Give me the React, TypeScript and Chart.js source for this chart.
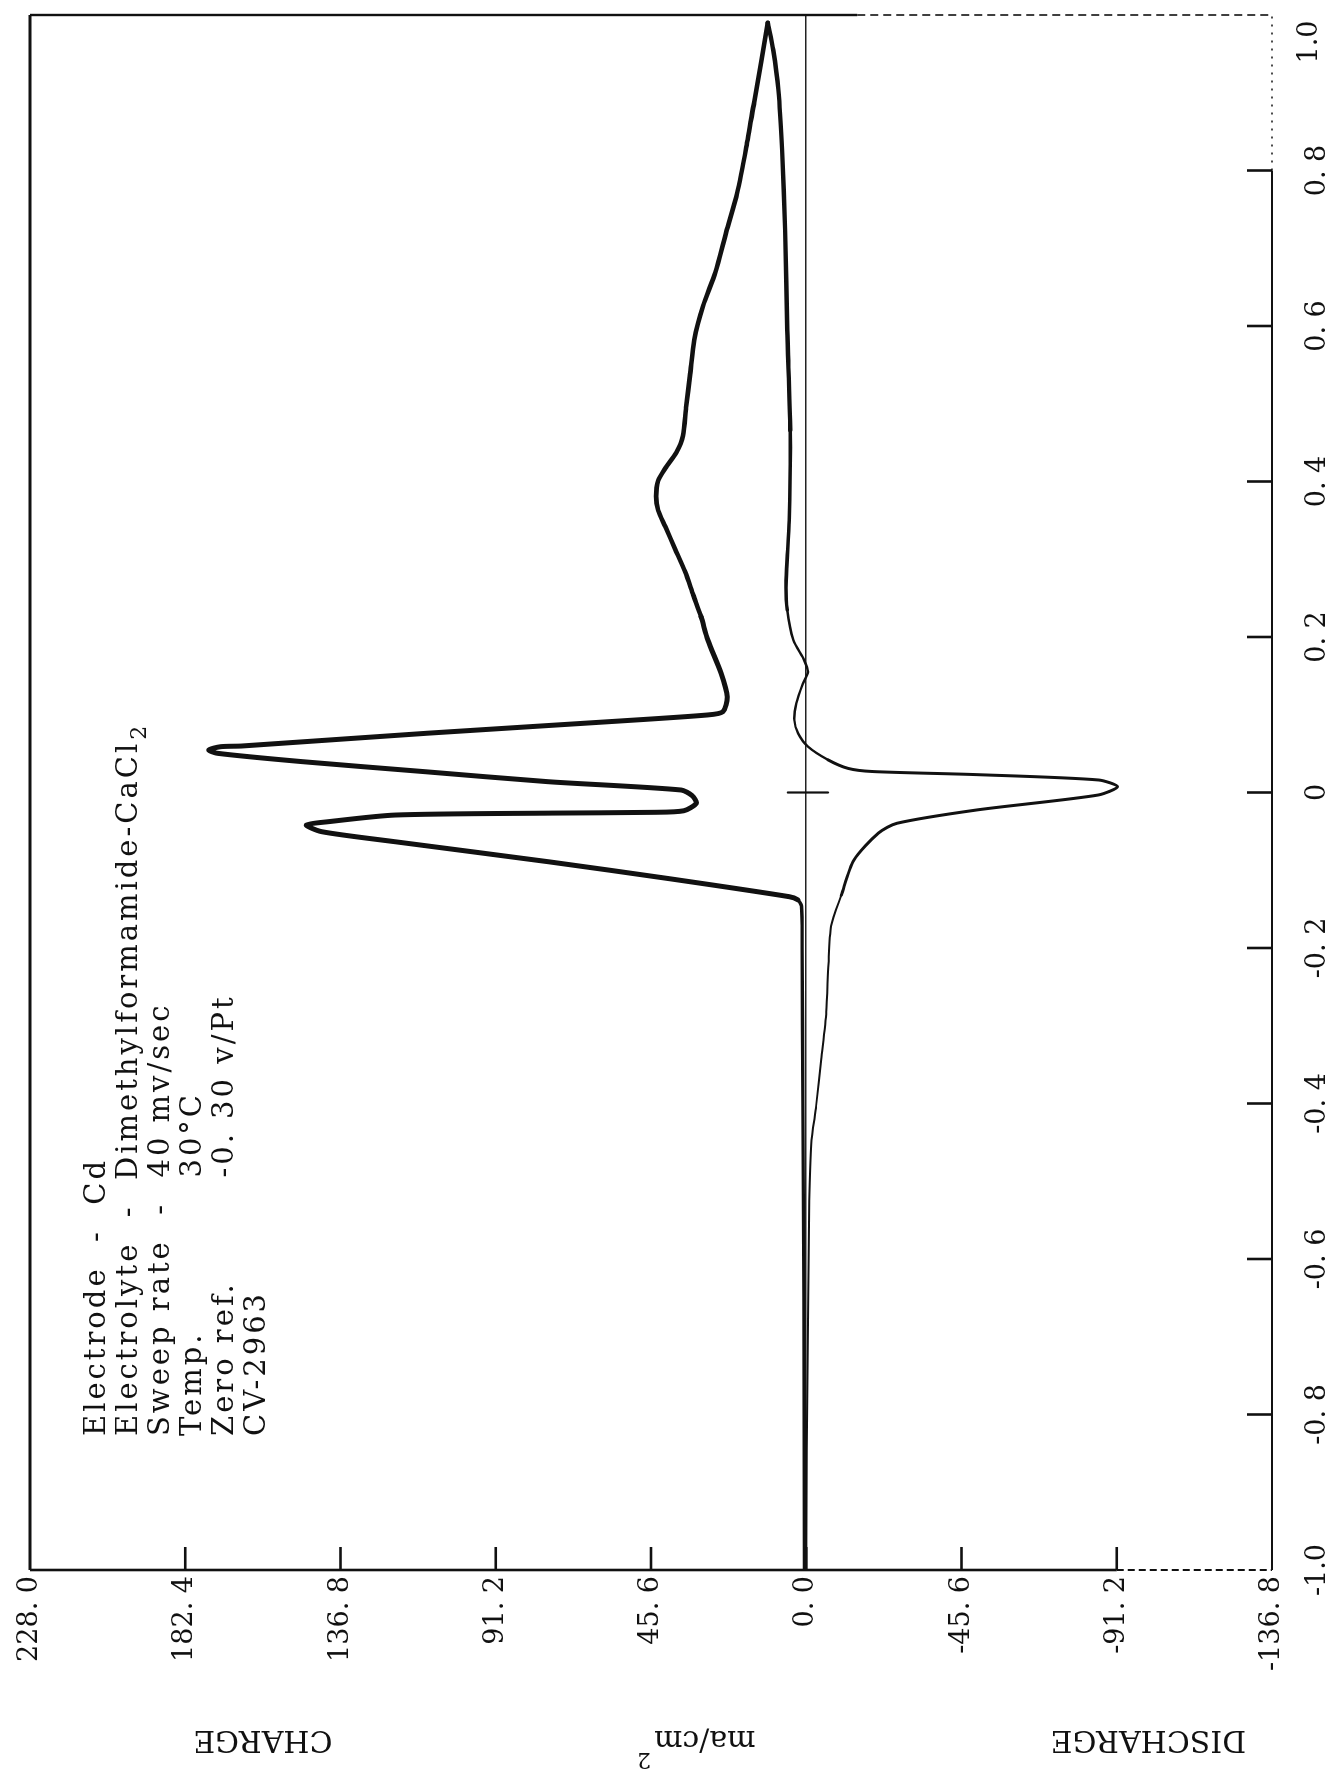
import { useEffect, useRef } from 'react';
import { Chart, registerables } from 'chart.js';

Chart.register(...registerables);

// Forward sweep: potential (V vs. zero ref) and current density (ma/cm²)
const forwardVolts = [
  -1.0, -0.65, -0.4, -0.2, -0.146, -0.138, -0.134, -0.111, -0.089, -0.0633, -0.0504, -0.0418, -0.0376,
  -0.029, -0.0265, -0.0255, -0.0235, -0.0139, -0.004, 0.0032, 0.0139, 0.0267, 0.0396, 0.0504, 0.0547,
  0.0589, 0.0598, 0.0761, 0.0911, 0.0997, 0.1039, 0.1232, 0.1533, 0.1961, 0.226, 0.254, 0.284, 0.313,
  0.342, 0.363, 0.381, 0.401, 0.417, 0.437, 0.459, 0.495, 0.538, 0.582, 0.626, 0.669, 0.721, 0.771,
  0.83, 0.888, 0.94, 0.99,
];
const forwardCurrent = [
  0.5, 0.7, 1.0, 1.2, 1.4, 2.5, 5.0, 40, 75.8, 120.8, 142.3, 146.8, 140.5,
  120.8, 75, 45, 36, 32.3, 33.5, 36.7, 75.8, 111.8, 147.8, 172.9, 175.5,
  172.0, 165.8, 111.8, 57.9, 29.1, 24.5, 23.2, 25.0, 28.9, 30.9, 33.2, 35.6, 38.5,
  41.4, 43.5, 44.1, 43.5, 41.4, 38.2, 36.2, 35.3, 34.1, 32.9, 30.3, 26.7, 23.5, 20.3,
  17.6, 15.3, 13.2, 11.3,
];

// Reverse sweep back from +1.0 V
const reverseVolts = [
  0.99, 0.955, 0.904, 0.826, 0.723, 0.595, 0.466, 0.35, 0.273, 0.235, 0.196, 0.17, 0.155, 0.14,
  0.115, 0.093, 0.076, 0.059, 0.042, 0.031, 0.027, 0.023, 0.0161, 0.0075, -0.0032, -0.0225,
  -0.0396, -0.0521, -0.0868, -0.132, -0.172, -0.221, -0.282, -0.343, -0.403, -0.452, -0.525,
  -0.648, -0.846, -1.0,
];
const reverseCurrent = [
  11.3, 9.7, 8.2, 7.1, 6.2, 5.6, 4.7, 5.0, 5.9, 5.6, 3.8, 0.6, -0.5, 1.0,
  2.9, 3.5, 2.4, -0.5, -6.4, -12.3, -19.4, -50.0, -85.9, -91.4, -85.8, -50.0,
  -26.6, -21.2, -14.0, -10.3, -7.3, -6.5, -5.9, -4.4, -2.9, -1.5, -0.9,
  -0.6, -0.15, 0.0,
];

// Zero-potential marker on the current axis
const markerVolts = [0, 0];
const markerCurrent = [5.4, -6.4];

const voltageTicks = [-1.0, -0.8, -0.6, -0.4, -0.2, 0, 0.2, 0.4, 0.6, 0.8, 1.0];
const voltageTickLabels = ['-1.0', '-0. 8', '-0. 6', '-0. 4', '-0. 2', '0', '0. 2', '0. 4', '0. 6', '0. 8', '1.0'];
const currentTicks = [-136.8, -91.2, -45.6, 0, 45.6, 91.2, 136.8, 182.4, 228.0];
const currentTickLabels = ['-136. 8', '-91. 2', '-45. 6', '0. 0', '45. 6', '91. 2', '136. 8', '182. 4', '228. 0'];

const infoLines = [
  { label: 'Electrode  -  Cd' },
  { label: 'Electrolyte  -  Dimethylformamide-CaCl', sub: '2' },
  { label: 'Sweep rate  -  40 mv/sec' },
  { label: 'Temp.', value: '30°C' },
  { label: 'Zero ref.', value: '-0. 30 v/Pt' },
  { label: 'CV-2963' },
];

const sideCaptions = [
  { text: 'CHARGE', at: 159.6 },
  { text: 'ma/cm', sup: '2', at: 32.3 },
  { text: 'DISCHARGE', at: -100.5 },
];

const FONT = "'DejaVu Serif', 'Liberation Serif', serif";
const TICK_SIZE = 27;
const X_TICK_PAD = 22;
const INK = '#111';

const toPoints = (xs: number[], ys: number[]) => xs.map((x, i) => ({ x, y: ys[i] }));
const labelFor = (values: number[], labels: string[], skip: number[] = []) => (value: number | string) => {
  const n = Number(value);
  if (skip.some((s) => Math.abs(s - n) < 1e-6)) return '';
  const i = values.findIndex((t) => Math.abs(t - n) < 1e-6);
  return i >= 0 ? labels[i] : '';
};

const forwardWidth = (ctx: any) => {
  const v = forwardVolts[ctx.p0DataIndex];
  if (v < -0.14) return 3.4;
  if (v > 0.2) return 4.6;
  return 5;
};
const reverseWidth = (ctx: any) => {
  const v = reverseVolts[ctx.p0DataIndex];
  if (v > 0.55) return 4.4;
  if (v > 0.25) return 3.6;
  if (v > 0.045) return 2.4;
  if (v > -0.1) return 3;
  return 2;
};

const framePlugin = {
  id: 'plotFrame',
  afterDatasetsDraw(chart: any) {
    const { ctx, chartArea: a, scales } = chart;
    const xs = scales.x;
    const ys = scales.y;
    ctx.save();
    ctx.strokeStyle = INK;
    const seg = (x1: number, y1: number, x2: number, y2: number, w: number, dash: number[] = []) => {
      ctx.lineWidth = w;
      ctx.setLineDash(dash);
      ctx.beginPath();
      ctx.moveTo(x1, y1);
      ctx.lineTo(x2, y2);
      ctx.stroke();
    };
    // 228.0 edge
    seg(a.left, a.top, a.right, a.top, 3);
    // -1.0 V edge
    const yBreak = ys.getPixelForValue(-91.2);
    seg(a.left, a.top, a.left, yBreak, 2.6);
    seg(a.left, yBreak, a.left, a.bottom, 2, [7, 4]);
    // -136.8 edge
    const xBreak = xs.getPixelForValue(0.8);
    seg(a.left, a.bottom, xBreak, a.bottom, 2);
    seg(xBreak, a.bottom, a.right, a.bottom, 1.5, [2, 6]);
    // +1.0 V edge
    const yMid = ys.getPixelForValue(-15);
    seg(a.right, a.top, a.right, yMid, 2.4);
    seg(a.right, yMid, a.right, a.bottom, 1.6, [8, 5]);
    // inward tick marks
    currentTicks.forEach((v) => {
      if (v <= ys.min + 1e-6 || v >= ys.max - 1e-6) return;
      const py = ys.getPixelForValue(v);
      seg(a.left, py, a.left + 23, py, 2.6);
    });
    voltageTicks.forEach((v) => {
      if (v <= xs.min + 1e-6 || v >= xs.max - 1e-6) return;
      const px = xs.getPixelForValue(v);
      seg(px, a.bottom, px, a.bottom - 25, 2.6);
    });
    ctx.restore();
  },
};

const notesPlugin = {
  id: 'notes',
  afterDraw(chart: any) {
    const { ctx, chartArea: a, scales } = chart;
    const xs = scales.x;
    const ys = scales.y;
    ctx.save();
    ctx.fillStyle = INK;

    // end label of the potential axis, set inside the frame corner
    ctx.font = `${TICK_SIZE}px ${FONT}`;
    ctx.textAlign = 'center';
    ctx.textBaseline = 'middle';
    const endIdx = voltageTicks.length - 1;
    ctx.fillText(
      voltageTickLabels[endIdx],
      xs.getPixelForValue(voltageTicks[endIdx]) - 27,
      a.bottom + X_TICK_PAD + (TICK_SIZE * 1.2) / 2,
    );

    // run description block
    ctx.textBaseline = 'alphabetic';
    ctx.textAlign = 'left';
    ctx.font = `29px ${FONT}`;
    (ctx as any).letterSpacing = '3px';
    const x0 = a.left + 134;
    const valueCol = x0 + ctx.measureText('Sweep rate  -  ').width;
    infoLines.forEach((line: any, i: number) => {
      const y = a.top + 74.5 + i * 32;
      ctx.font = `29px ${FONT}`;
      ctx.fillText(line.label, x0, y);
      if (line.value) ctx.fillText(line.value, valueCol, y);
      if (line.sub) {
        const w = ctx.measureText(line.label).width;
        ctx.font = `22px ${FONT}`;
        ctx.fillText(line.sub, x0 + w + 1, y + 9);
      }
    });

    // axis captions, read along the current axis
    (ctx as any).letterSpacing = '0px';
    sideCaptions.forEach((c: any) => {
      const py = ys.getPixelForValue(c.at);
      ctx.save();
      ctx.translate(45, py);
      ctx.rotate(-Math.PI / 2);
      ctx.font = `30px ${FONT}`;
      const w = ctx.measureText(c.text).width;
      let total = w;
      if (c.sup) {
        ctx.font = `22px ${FONT}`;
        total += ctx.measureText(c.sup).width + 3;
      }
      ctx.font = `30px ${FONT}`;
      ctx.fillText(c.text, -total / 2, 0);
      if (c.sup) {
        ctx.font = `22px ${FONT}`;
        ctx.fillText(c.sup, -total / 2 + w + 3, -22);
      }
      ctx.restore();
    });
    ctx.restore();
  },
};

export default function App() {
  const canvasRef = useRef<HTMLCanvasElement>(null);

  useEffect(() => {
    const canvas = canvasRef.current;
    if (!canvas) return;
    Chart.defaults.font.family = FONT;
    const lineBase = {
      showLine: true,
      pointRadius: 0,
      pointHoverRadius: 0,
      borderColor: INK,
      borderCapStyle: 'round',
      borderJoinStyle: 'round',
      fill: false,
      tension: 0.25,
    };
    const chart = new Chart(canvas, {
      type: 'scatter',
      data: {
        datasets: [
          {
            ...lineBase,
            label: 'Forward sweep',
            data: toPoints(forwardVolts, forwardCurrent),
            borderWidth: 5,
            segment: { borderWidth: forwardWidth },
          },
          {
            ...lineBase,
            label: 'Reverse sweep',
            data: toPoints(reverseVolts, reverseCurrent),
            borderWidth: 3,
            segment: { borderWidth: reverseWidth },
          },
          {
            ...lineBase,
            label: 'Zero marker',
            data: toPoints(markerVolts, markerCurrent),
            borderWidth: 2.2,
            borderCapStyle: 'butt',
            tension: 0,
          },
        ] as any,
      },
      options: {
        animation: false,
        responsive: false,
        devicePixelRatio: 1,
        events: [],
        layout: { padding: { top: 30, right: 15, bottom: 0, left: 0 } },
        plugins: {
          legend: { display: false },
          tooltip: { enabled: false },
        },
        scales: {
          x: {
            type: 'linear',
            min: -1,
            max: 1,
            afterBuildTicks: (s: any) => {
              s.ticks = voltageTicks.map((value) => ({ value }));
            },
            afterFit: (s: any) => {
              s.height = 67;
              s.paddingRight = 0;
              s.paddingLeft = 0;
            },
            ticks: {
              callback: labelFor(voltageTicks, voltageTickLabels, [1.0]),
              font: { family: FONT, size: TICK_SIZE },
              color: INK,
              padding: X_TICK_PAD,
              autoSkip: false,
              maxRotation: 0,
              minRotation: 0,
            },
            grid: { display: false },
            border: { display: false },
          },
          y: {
            type: 'linear',
            min: -136.8,
            max: 228.0,
            afterBuildTicks: (s: any) => {
              s.ticks = currentTicks.map((value) => ({ value }));
            },
            afterFit: (s: any) => {
              s.width = 206;
              s.paddingTop = 0;
              s.paddingBottom = 0;
            },
            ticks: {
              callback: labelFor(currentTicks, currentTickLabels),
              font: { family: FONT, size: TICK_SIZE },
              color: INK,
              padding: 6,
              autoSkip: false,
            },
            grid: {
              drawTicks: false,
              lineWidth: 1.6,
              color: (c: any) => (c.tick && Math.abs(c.tick.value) < 1e-6 ? '#222' : 'rgba(0,0,0,0)'),
            },
            border: { display: false },
          },
        },
      } as any,
      plugins: [framePlugin, notesPlugin],
    });
    return () => chart.destroy();
  }, []);

  return (
    <div
      style={{
        position: 'absolute',
        left: 0,
        top: 0,
        width: 1339,
        height: 1776,
        overflow: 'hidden',
        background: '#fff',
      }}
    >
      <div
        style={{
          position: 'absolute',
          left: 0,
          top: 0,
          width: 1776,
          height: 1339,
          transformOrigin: '0 0',
          transform: 'translate(0px, 1776px) rotate(-90deg)',
        }}
      >
        <canvas ref={canvasRef} width={1776} height={1339} style={{ display: 'block' }} />
      </div>
    </div>
  );
}
